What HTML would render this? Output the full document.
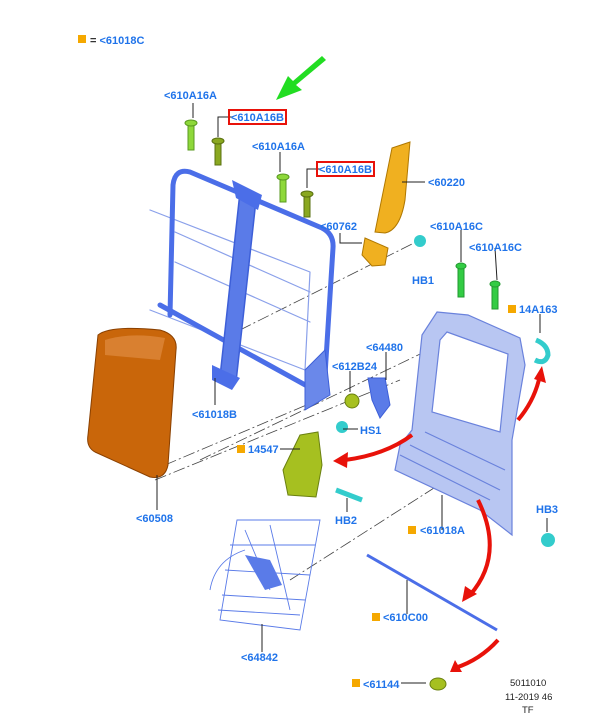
<!DOCTYPE html>
<html><head><meta charset="utf-8"><style>
html,body{margin:0;padding:0;background:#fff;}
svg{display:block}
text{font-family:"Liberation Sans",sans-serif;font-size:11px;font-weight:bold;fill:#1f73ea}
.k{fill:#222;font-weight:normal;font-size:9.5px}
.l{stroke:#222;stroke-width:1;fill:none}
.d{stroke:#444;stroke-width:0.8;fill:none;stroke-dasharray:12 3 2 3}
.fr{fill:none;stroke-linecap:round;stroke-linejoin:round}
.sq{fill:#f5a800}
</style></head><body>
<svg width="607" height="716" viewBox="0 0 607 716" xmlns="http://www.w3.org/2000/svg">
<rect class="sq" x="78" y="35" width="8" height="8"/>
<text x="90" y="44"><tspan style="fill:#333">=</tspan> &lt;61018C</text>
<path d="M326 60 L296 85 L302 90 L276 100 L288 76 L293 81 L322 56 Z" fill="#22dd22"/>
<g class="d">
<path d="M240 330 L420 240"/>
<path d="M165 465 L330 395"/>
<path d="M155 480 L400 380"/>
<path d="M200 460 L470 330"/>
<path d="M290 580 L470 465"/>
</g>
<!-- back frame -->
<g class="fr">
<path d="M150 210 L310 272 L305 370 L150 310" stroke-width="1.2" stroke="#8aa0ea"/>
<path d="M175 232 L310 292 M175 262 L310 322" stroke-width="1.2" stroke="#8aa0ea"/>
<path d="M170 315 L173 185 Q175 168 190 172 L322 228 Q334 234 333 248 L325 375 Q320 392 310 386" stroke-width="5" stroke="#4b6ee8"/>
<path d="M160 305 L318 392" stroke-width="5" stroke="#4b6ee8"/>
<path d="M240 192 L256 200 L236 382 L220 377 Z" fill="#5a7be8" stroke="#3d5fd8" stroke-width="1.5"/>
<path d="M232 180 L262 195 L258 210 L236 198 Z" fill="#4b6ee8"/>
<path d="M212 365 L240 378 L232 390 L212 380 Z" fill="#4b6ee8"/>
<path d="M305 370 L325 350 L330 395 L305 410 Z" fill="#6a88ea" stroke="#3d5fd8"/>
</g>
<!-- cushion -->
<path d="M98 335 Q110 325 160 330 Q178 335 176 350 L168 465 Q165 480 150 477 L95 452 Q86 447 88 435 Z" fill="#c9660a" stroke="#8a4000"/>
<path d="M105 340 Q130 332 165 338 L160 360 L105 355 Z" fill="#d98030"/>
<g fill="#8ed83a" stroke="#5a9a20">
<rect x="188" y="122" width="6" height="28"/><ellipse cx="191" cy="123" rx="6" ry="3"/>
<rect x="280" y="176" width="6" height="26"/><ellipse cx="283" cy="177" rx="6" ry="3"/>
</g>
<g fill="#8aa820" stroke="#5a7010">
<rect x="215" y="140" width="6" height="25"/><ellipse cx="218" cy="141" rx="6" ry="3"/>
<rect x="304" y="193" width="6" height="24"/><ellipse cx="307" cy="194" rx="6" ry="3"/>
</g>
<g fill="#33cc44" stroke="#229930">
<rect x="458" y="265" width="6" height="32"/><ellipse cx="461" cy="266" rx="5" ry="3"/>
<rect x="492" y="283" width="6" height="26"/><ellipse cx="495" cy="284" rx="5" ry="3"/>
</g>
<path d="M392 148 L410 142 L405 200 Q400 230 385 233 L375 232 Z" fill="#f0b020" stroke="#b07800"/>
<path d="M365 238 L388 248 L385 265 L372 266 L362 255 Z" fill="#f0b020" stroke="#b07800"/>
<!-- front frame -->
<g stroke="#6a82dc" stroke-width="1.2">
<path d="M437 312 L468 315 L520 338 L525 365 L512 440 L512 535 L480 510 L395 470 L400 445 L412 430 L422 335 Z" fill="#b8c6f2"/>
<path d="M447 332 L508 354 L500 432 L432 412 L440 340 Z" fill="#fff"/>
<path d="M400 455 L490 500 M410 445 L500 490 M425 432 L505 470" fill="none"/>
</g>
<circle cx="352" cy="401" r="7" fill="#a6c020" stroke="#6a8010"/>
<path d="M368 378 L385 378 L390 405 L380 418 L372 400 Z" fill="#5a7be8" stroke="#3d5fd8"/>
<path d="M300 435 L318 432 L322 465 L316 497 L288 495 L283 470 Z" fill="#a6c020" stroke="#6a8010"/>
<path d="M336 490 L362 500" stroke="#33cccc" stroke-width="5"/>
<path d="M536 340 Q548 345 548 355 Q545 365 535 360" stroke="#33cccc" stroke-width="5" fill="none"/>
<circle cx="342" cy="427" r="6" fill="#33cccc"/>
<circle cx="420" cy="241" r="6" fill="#33cccc"/>
<circle cx="548" cy="540" r="7" fill="#33cccc"/>
<g stroke="#5a7be8" fill="none" stroke-width="0.9">
<path d="M237 520 L320 520 L300 630 L220 620 Z"/>
<path d="M230 545 L315 545 M225 570 L310 575 M222 595 L305 600 M218 610 L300 615"/>
<path d="M245 530 L270 590 M270 525 L290 610"/>
<path d="M210 590 Q215 560 245 550"/>
</g>
<path d="M245 555 L270 560 L282 585 L265 590 Z" fill="#5a7be8"/>
<path d="M367 555 L497 630" stroke="#4b6ee8" stroke-width="3"/>
<ellipse cx="438" cy="684" rx="8" ry="6" fill="#a6c020" stroke="#6a8010"/>
<g stroke="#e8120a" stroke-width="4" fill="none">
<path d="M412 435 Q385 455 345 460"/>
<path d="M518 420 Q535 400 540 375"/>
<path d="M478 500 Q505 555 470 595"/>
<path d="M498 640 Q480 660 455 668"/>
</g>
<g fill="#e8120a">
<path d="M333 461 L348 452 L347 468 Z"/>
<path d="M542 366 L546 383 L534 379 Z"/>
<path d="M462 602 L465 586 L477 594 Z"/>
<path d="M450 672 L455 660 L462 672 Z"/>
</g>
<g class="l">
<path d="M193 103 L193 118"/>
<path d="M218 137 L218 117 L232 117"/>
<path d="M280 152 L280 172"/>
<path d="M307 188 L307 169 L320 169"/>
<path d="M425 182 L402 182"/>
<path d="M340 233 L340 243 L362 243"/>
<path d="M461 230 L461 262"/>
<path d="M495 248 L497 280"/>
<path d="M540 314 L540 333"/>
<path d="M386 352 L386 380"/>
<path d="M350 371 L350 392"/>
<path d="M215 378 L215 405"/>
<path d="M343 429 L358 429"/>
<path d="M280 449 L300 449"/>
<path d="M347 498 L347 512"/>
<path d="M157 475 L157 510"/>
<path d="M442 495 L442 530"/>
<path d="M547 518 L547 532"/>
<path d="M262 624 L262 652"/>
<path d="M407 580 L407 614"/>
<path d="M401 683 L426 683"/>
</g>
<text x="164" y="99">&lt;610A16A</text>
<rect x="229" y="110" width="57" height="14" fill="none" stroke="#e8120a" stroke-width="2"/>
<text x="231" y="121">&lt;610A16B</text>
<text x="252" y="150">&lt;610A16A</text>
<rect x="317" y="162" width="57" height="14" fill="none" stroke="#e8120a" stroke-width="2"/>
<text x="319" y="173">&lt;610A16B</text>
<text x="428" y="186">&lt;60220</text>
<text x="320" y="230">&lt;60762</text>
<text x="430" y="230">&lt;610A16C</text>
<text x="469" y="251">&lt;610A16C</text>
<text x="412" y="284">HB1</text>
<rect class="sq" x="508" y="305" width="8" height="8"/>
<text x="519" y="313">14A163</text>
<text x="366" y="351">&lt;64480</text>
<text x="332" y="370">&lt;612B24</text>
<text x="192" y="418">&lt;61018B</text>
<text x="360" y="434">HS1</text>
<rect class="sq" x="237" y="445" width="8" height="8"/>
<text x="248" y="453">14547</text>
<text x="136" y="522">&lt;60508</text>
<text x="335" y="524">HB2</text>
<text x="536" y="513">HB3</text>
<rect class="sq" x="408" y="526" width="8" height="8"/>
<text x="420" y="534">&lt;61018A</text>
<rect class="sq" x="372" y="613" width="8" height="8"/>
<text x="383" y="621">&lt;610C00</text>
<text x="241" y="661">&lt;64842</text>
<rect class="sq" x="352" y="679" width="8" height="8"/>
<text x="363" y="688">&lt;61144</text>
<text class="k" x="510" y="686">5011010</text>
<text class="k" x="505" y="700">11-2019 46</text>
<text class="k" x="522" y="713">TF</text>
</svg>
</body></html>
